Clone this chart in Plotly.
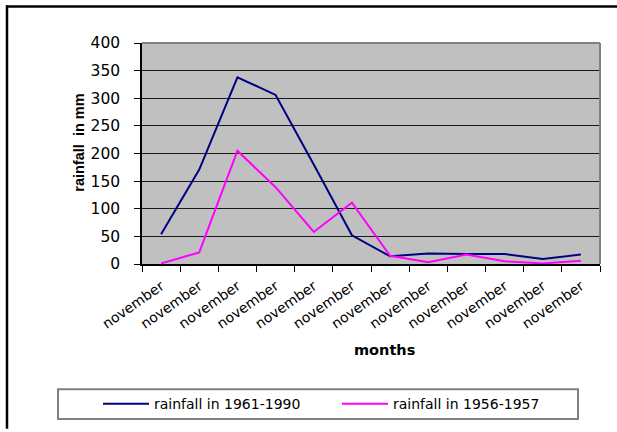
import plotly.graph_objects as go

# Monthly rainfall (mm)
months = ["november"] * 12
rain_1961_1990 = [54, 171, 338, 306, 180, 52, 14, 19, 18, 18, 9, 17]
rain_1956_1957 = [1, 21, 205, 139, 58, 111, 15, 3, 17, 5, 1, 6]
series_names = ["rainfall in 1961-1990", "rainfall in 1956-1957"]
series_colors = ["#000080", "#FF00FF"]

W, H = 617, 432
ML, MR, MT, MB = 142, 17, 43, 165
PW, PH = W - ML - MR, H - MT - MB


def px(x):
    return (x - ML) / PW


def py(y):
    return (H - MB - y) / PH


idx = list(range(len(months)))

fig = go.Figure()
fig.add_trace(go.Scatter(x=idx, y=rain_1961_1990, mode="lines", name=series_names[0],
                         line=dict(color=series_colors[0], width=2), legend="legend"))
fig.add_trace(go.Scatter(x=idx, y=rain_1956_1957, mode="lines", name=series_names[1],
                         line=dict(color=series_colors[1], width=2), legend="legend2"))

txt = "DejaVu Sans"
leg_common = dict(orientation="h", yanchor="middle", y=py(409), xanchor="left",
                  font=dict(family=txt, size=14, color="#000000"),
                  bgcolor="rgba(0,0,0,0)", borderwidth=0, itemwidth=46)

fig.update_layout(
    width=W, height=H,
    margin=dict(l=ML, r=MR, t=MT, b=MB, pad=0),
    paper_bgcolor="white", plot_bgcolor="#C0C0C0",
    showlegend=True,
    legend=dict(x=px(98), **leg_common),
    legend2=dict(x=px(337), **leg_common),
    xaxis=dict(
        range=[-0.5, len(months) - 0.5], tickvals=idx, ticktext=months,
        tickangle=-35, ticks="", showgrid=False, zeroline=False,
        showline=True, linecolor="#000000", linewidth=1.5,
        tickfont=dict(family=txt, size=14, color="#000000"),
        ticklabelstandoff=7,
        minor=dict(tickvals=[i - 0.5 for i in range(len(months) + 1)],
                   ticks="outside", ticklen=6, tickcolor="#000000", tickwidth=1,
                   showgrid=False),
    ),
    yaxis=dict(
        range=[0, 400], dtick=50, ticks="outside", ticklen=6, tickcolor="#000000",
        showgrid=True, gridcolor="#1a1a1a", gridwidth=1, zeroline=False,
        showline=True, linecolor="#000000", linewidth=1.5,
        tickfont=dict(family=txt, size=15.5, color="#000000"),
        ticklabelstandoff=11,
    ),
    annotations=[
        dict(text="<b>rainfall\u00a0 in mm</b>", textangle=-90, x=px(69), y=py(144),
             xref="paper", yref="paper", showarrow=False,
             font=dict(family="Liberation Sans", size=14.5, color="#000000")),
        dict(text="<b>months</b>", x=px(384), y=py(364), xref="paper", yref="paper",
             showarrow=False, font=dict(family=txt, size=14.5, color="#000000")),
    ],
    shapes=[
        # plot-area frame (top and right edges)
        dict(type="line", xref="paper", yref="paper", x0=0, x1=1, y0=1, y1=1,
             line=dict(color="#808080", width=2)),
        dict(type="line", xref="paper", yref="paper", x0=1, x1=1, y0=0, y1=1,
             line=dict(color="#808080", width=2)),
        # legend box
        dict(type="rect", xref="paper", yref="paper", x0=px(58), x1=px(578),
             y0=py(424), y1=py(394), line=dict(color="#808080", width=2),
             layer="below"),
        # outer chart frame
        dict(type="line", xref="paper", yref="paper", x0=px(6), x1=px(W + 2),
             y0=py(6), y1=py(6), line=dict(color="#000000", width=2.5)),
        dict(type="line", xref="paper", yref="paper", x0=px(7), x1=px(7),
             y0=py(5), y1=py(H + 2), line=dict(color="#000000", width=2.5)),
    ],
)

fig.write_html("out.html")
